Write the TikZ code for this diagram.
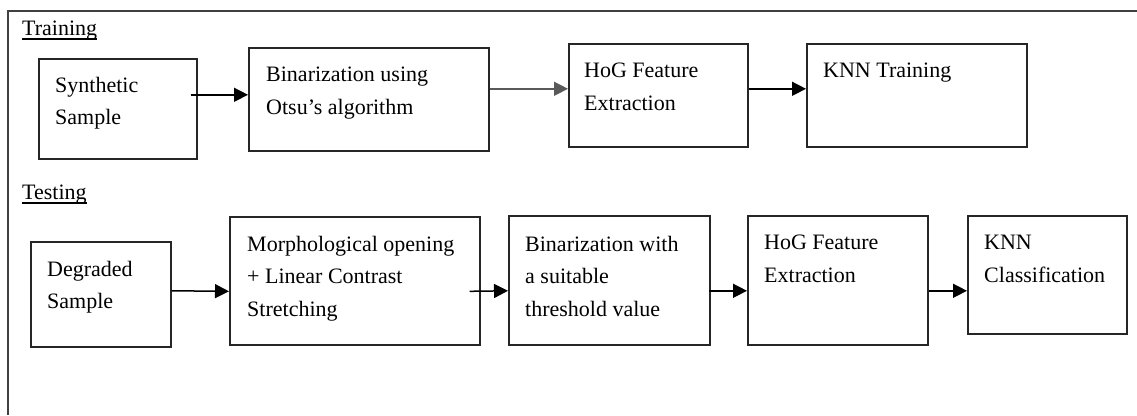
\documentclass[tikz,border=0pt]{standalone}
\usepackage{fontspec}
\setmainfont{Liberation Serif}
\usetikzlibrary{arrows.meta,calc}
\begin{document}
\begin{tikzpicture}[x=1pt,y=-1pt,
  box/.style={draw=black!85,line width=1.6pt,inner sep=0pt,anchor=north west},
  txt/.style={inner sep=0pt,anchor=north west,align=left,font=\fontsize{22}{32.5}\selectfont},
  lab/.style={inner sep=0pt,anchor=base west,font=\fontsize{22}{26}\selectfont},
  arr/.style={line width=1.5pt,draw=black,-{Triangle[length=14pt,width=14pt]}},
  frame/.style={line width=1.6pt,draw=black!75}]
\useasboundingbox (0,0) rectangle (1137,415);
% outer frame (cut on right and bottom)
\coordinate (fbl) at (8,415);
\coordinate (ftl) at (8,11);
\coordinate (ftr) at (1137,11);
\draw[frame] (fbl) -- (ftl) -- (ftr);
% section labels
\node[lab] (tr) at (22,35) {Training};
\draw[line width=1.2pt] ($(tr.base west)+(0,4)$) -- ($(tr.base east)+(0,4)$);
\node[lab] (te) at (22,199) {Testing};
\draw[line width=1.2pt] ($(te.base west)+(0,4)$) -- ($(te.base east)+(0,4)$);
% training boxes
\node[box,minimum width=158pt,minimum height=100pt] (s1) at (38,58) {};
\node[box,minimum width=240pt,minimum height=103pt] (b1) at (248,47) {};
\node[box,minimum width=179pt,minimum height=103pt] (h1) at (568,43) {};
\node[box,minimum width=220pt,minimum height=103pt] (k1) at (806,43) {};
\node[txt] (s1t) at (55,77) {Synthetic\\Sample};
\node[txt] (b1t) at (266,67) {Binarization using\\Otsu’s algorithm};
\node[txt] (h1t) at (584,63) {HoG Feature\\Extraction};
\node[txt] (k1t) at (823,63) {KNN Training};
% testing boxes
\node[box,minimum width=140pt,minimum height=105pt] (d2) at (30,241) {};
\node[box,minimum width=250pt,minimum height=128pt] (m2) at (229,216) {};
\node[box,minimum width=201pt,minimum height=129pt] (b2) at (508,215) {};
\node[box,minimum width=180pt,minimum height=129pt] (h2) at (747,215) {};
\node[box,minimum width=159pt,minimum height=118pt] (k2) at (967,215) {};
\node[txt] (d2t) at (47,261) {Degraded\\Sample};
\node[txt] (m2t) at (247,236) {Morphological opening\\+ Linear Contrast\\Stretching};
\node[txt] (b2t) at (525,236) {Binarization with\\a suitable\\threshold value};
\node[txt] (h2t) at (764,235) {HoG Feature\\Extraction};
\node[txt] (k2t) at (984,235) {KNN\\Classification};
% connectors
\draw[arr] ($(s1.east)+(-7,-14)$) -- ($(b1.west)+(0,-4.5)$);
\draw[arr,draw=black!65,fill=black!65] ($(b1.east)+(0,-10.5)$) -- ($(h1.west)+(0,-6.5)$);
\draw[arr] ($(h1.east)+(0,-6.5)$) -- ($(k1.west)+(0,-6.5)$);
\draw[arr] ($(d2.east)+(0,-3.5)$) -- ($(m2.west)+(0,10.5)$);
\draw[arr] ($(m2.east)+(-11,10.5)$) -- ($(b2.west)+(0,10.5)$);
\draw[arr] ($(b2.east)+(-2,10.5)$) -- ($(h2.west)+(0,10.5)$);
\draw[arr] ($(h2.east)+(0,10.5)$) -- ($(k2.west)+(0,16)$);
\end{tikzpicture}
\end{document}
